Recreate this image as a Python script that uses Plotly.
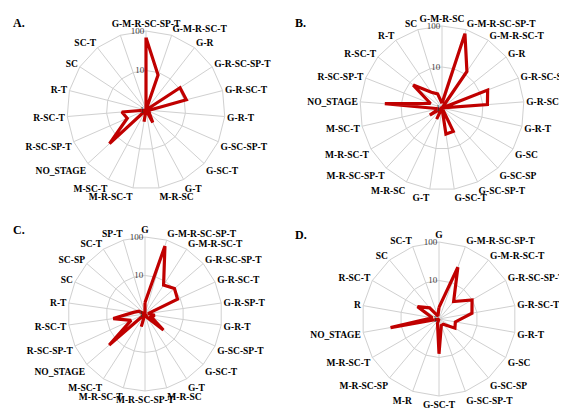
import plotly.graph_objects as go

# ---------------- data ----------------
cats_a = ["G-M-R-SC-SP-T", "G-M-R-SC-T", "G-R", "G-R-SC-SP-T", "G-R-SC-T", "G-R-T",
          "G-SC-SP-T", "G-SC-T", "G-T", "M-R-SC", "M-R-SC-T", "M-SC-T", "NO_STAGE",
          "R-SC-SP-T", "R-SC-T", "R-T", "SC", "SC-T", " "]
vals_a = [68, 8.7, 1, 10.7, 11.3, 1.2, 1.2, 1.3, 2.3, 1, 2.0, 1, 18, 3.3, 4.1, 1, 1, 1, 1]

cats_b = ["G-M-R-SC", "G-M-R-SC-SP-T", "G-M-R-SC-T", "G-R", "G-R-SC-SP-T", "G-R-SC-T",
          "G-R-T", "G-SC", "G-SC-SP", "G-SC-SP-T", "G-SC-T", "G-T", "M-R-SC",
          "M-R-SC-SP-T", "M-R-SC-T", "M-SC-T", "NO_STAGE", "R-SC-SP-T", "R-SC-T",
          "R-T", "SC"]
vals_b = [1.3, 79, 12, 1, 15.7, 12.9, 1, 1, 1, 4.3, 4.4, 1, 2.0, 1, 2.2, 1.2, 25, 2.0,
          7.9, 2.9, 2.3]

cats_c = ["G", "G-M-R-SC-SP-T", "G-M-R-SC-T", "G-R-SC-SP-T", "G-R-SC-T", "G-R-SP-T",
          "G-R-T", "G-SC-SP-T", "G-SC-T", "G-T", "M-R-SC", "M-R-SC-SP-T", "M-R-SC-T",
          "M-SC-T", "NO_STAGE", "R-SC-SP-T", "R-SC-T", "R-T", "SC", "SC-SP", "SC-T",
          "SP-T"]
vals_c = [2.0, 69, 7.8, 10.3, 8.5, 1.2, 1.8, 1.5, 4.3, 1.3, 1, 1, 2.2, 1, 17, 2.5, 6.8,
          2.0, 1.5, 1, 1, 1]

cats_d = ["G", "G-M-R-SC-SP-T", "G-M-R-SC-T", "G-R-SC-SP-T", "G-R-SC-T", "G-R-T",
          "G-SC", "G-SC-SP", "G-SC-SP-T", "G-SC-T", "M-R", "M-R-SC-SP", "M-R-SC-T",
          "NO_STAGE", "R", "R-SC-T", "SC", "SC-T"]
vals_d = [2.0, 27, 3.9, 9.8, 7.4, 2.7, 3.0, 1.5, 1.5, 8.0, 1.3, 1, 1, 19, 1.5, 4.4, 2.4, 1.2]

radial_ticks = [1, 10, 100]
panel_labels = ["A.", "B.", "C.", "D."]

# ---------------- layout helpers ----------------
W, H = 567, 410
# (center x, center y, radius) in pixels for each panel
geom = [(138, 102, 79), (434, 100, 82), (137, 306, 77), (431, 311, 77)]

RED = "#C00000"
GRID = "#D0D0D0"
FONT = "Liberation Serif"

fig = go.Figure()
panels = [(cats_a, vals_a), (cats_b, vals_b), (cats_c, vals_c), (cats_d, vals_d)]
for i, (cats, vals) in enumerate(panels):
    pid = "polar" if i == 0 else f"polar{i+1}"
    fig.add_trace(go.Scatterpolar(
        r=vals + vals[:1], theta=cats + cats[:1], mode="lines",
        line=dict(color=RED, width=3.2), subplot=pid, showlegend=False,
        hoverinfo="skip"))
    cx, cy, rad = geom[i]
    dom = dict(x=[(cx - rad) / W, (cx + rad) / W],
               y=[1 - (cy + rad) / H, 1 - (cy - rad) / H])
    fig.layout[pid] = dict(
        domain=dom,
        gridshape="linear",
        bgcolor="white",
        angularaxis=dict(
            type="category", categoryorder="array", categoryarray=cats,
            direction="clockwise", rotation=90,
            showline=True, linecolor=GRID, linewidth=1,
            showgrid=True, gridcolor=GRID, gridwidth=1,
            ticks="", ticklen=0,
            tickfont=dict(family=FONT, size=9.5, color="black", weight="bold"),
        ),
        radialaxis=dict(
            type="log", range=[0, 2], tickvals=radial_ticks,
            ticktext=[str(t) for t in radial_ticks],
            showline=False, showgrid=True, gridcolor=GRID, gridwidth=1,
            ticks="", ticklen=0, angle=90, tickangle=90, side="counterclockwise",
            tickfont=dict(family=FONT, size=9, color="#404040"),
        ),
    )

ann_pos = [(3, 6), (285, 6), (3, 213), (285, 218)]
for lab, (x, y) in zip(panel_labels, ann_pos):
    fig.add_annotation(x=x / W, y=1 - y / H, xref="paper", yref="paper",
                       xanchor="left", yanchor="top", text=f"<b>{lab}</b>",
                       showarrow=False,
                       font=dict(family=FONT, size=12, color="black"))

fig.update_layout(width=W, height=H, margin=dict(l=0, r=0, t=0, b=0),
                  paper_bgcolor="white", plot_bgcolor="white")
fig.write_html("out.html")
